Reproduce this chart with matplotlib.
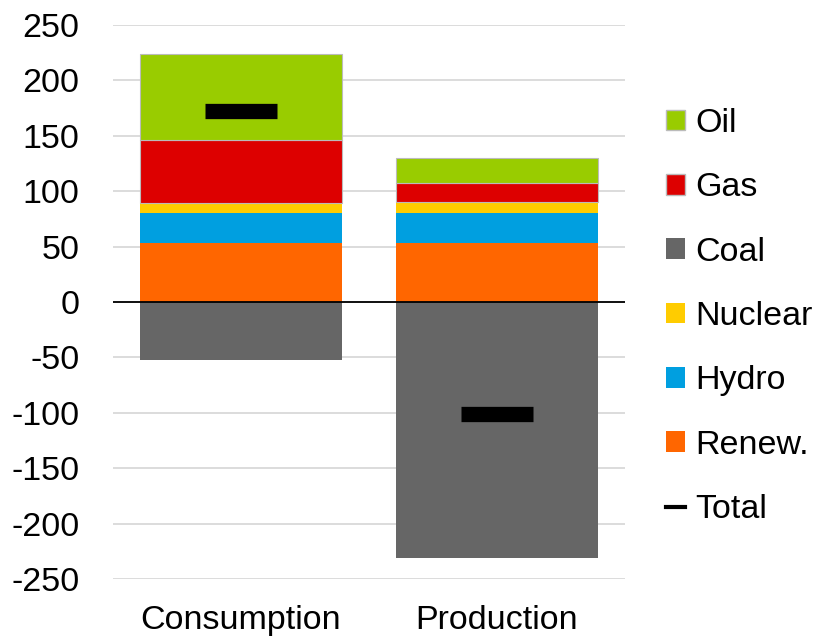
import numpy as np
import matplotlib
matplotlib.use("Agg")
import matplotlib.pyplot as plt
from matplotlib.patches import Patch
from matplotlib.lines import Line2D

plt.rcParams['font.family'] = ['Liberation Sans', 'DejaVu Sans']
plt.rcParams['axes.unicode_minus'] = False

# data
categories = ['Consumption', 'Production']
renew   = [53, 53]
hydro   = [27, 27]
nuclear = [9, 10]
gas     = [57, 17]
oil     = [78, 23]
coal    = [-52, -231]
total   = [172, -101]

# styles
cRenew, cHydro, cNuclear = '#FF6600', '#009FE0', '#FFCC00'
cGas, cOil, cCoal = '#DD0000', '#99CC00', '#666666'
fs = 24.5

fig = plt.figure(figsize=(8.25, 6.4), dpi=100)
ax = fig.add_axes([113/825, 1-579/640, 512/825, 554/640])

x = np.arange(len(categories))
w = 0.79
b = np.zeros(len(x))
ax.bar(x, renew, w, bottom=b, color=cRenew, zorder=3); b += renew
ax.bar(x, hydro, w, bottom=b, color=cHydro, zorder=3); b += hydro
ax.bar(x, nuclear, w, bottom=b, color=cNuclear, zorder=3); b += nuclear
ax.bar(x, gas, w, bottom=b, color=cGas, edgecolor='#BBBBBB', linewidth=0.8, zorder=3); b += gas
ax.bar(x, oil, w, bottom=b, color=cOil, edgecolor='#BBBBBB', linewidth=0.8, zorder=3)
ax.bar(x, coal, w, color=cCoal, zorder=3)
ax.plot(x, total, linestyle='none', marker='_', color='k',
        markersize=52, markeredgewidth=11, zorder=5)

ax.axhline(0, color='k', linewidth=1.3, zorder=4)
ax.set_xlim(-0.5, 1.5)
ax.set_ylim(-250, 250)
ax.set_yticks(np.arange(-250, 251, 50))
ax.yaxis.grid(True, color='#D9D9D9', linewidth=1.3, zorder=0)
ax.set_axisbelow(True)
for s in ax.spines.values():
    s.set_visible(False)
ax.set_xticks(x)
ax.set_xticklabels(categories)
ax.tick_params(axis='both', length=0, labelsize=fs)
ax.tick_params(axis='y', pad=24)
ax.tick_params(axis='x', pad=19)

handles = [
    Patch(facecolor=cOil, edgecolor='#BBBBBB', label='Oil'),
    Patch(facecolor=cGas, edgecolor='#BBBBBB', label='Gas'),
    Patch(facecolor=cCoal, label='Coal'),
    Patch(facecolor=cNuclear, label='Nuclear'),
    Patch(facecolor=cHydro, label='Hydro'),
    Patch(facecolor=cRenew, label='Renew.'),
    Line2D([0], [0], color='k', linewidth=3, label='Total'),
]
fig.legend(handles=handles, loc='upper left', bbox_to_anchor=(666/825, 1-108/640),
           frameon=False, fontsize=fs, handlelength=0.55, handleheight=0.55,
           handletextpad=0.3, labelspacing=0.98, borderaxespad=0, borderpad=0)

fig.savefig('out.png', dpi=100)
